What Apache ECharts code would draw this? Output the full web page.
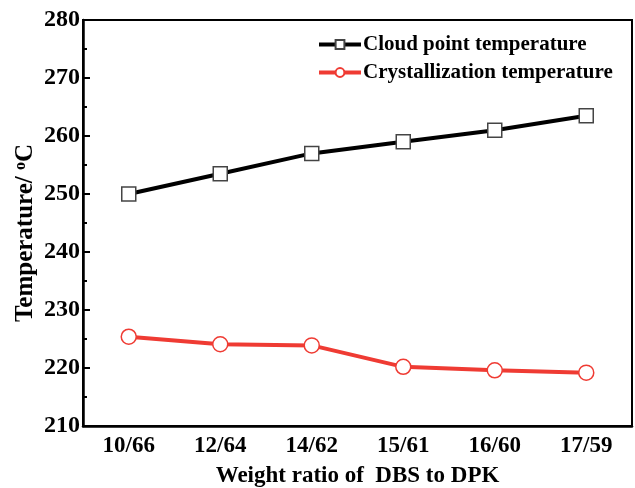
<!DOCTYPE html>
<html>
<head>
<meta charset="utf-8">
<script src="https://cdn.jsdelivr.net/npm/echarts@6/dist/echarts.min.js"></script>
<style>
  html, body { margin: 0; padding: 0; background: #fff; }
  #chart { width: 635px; height: 488px; }
</style>
</head>
<body>
<div id="chart"></div>
<script>
// Weight ratio of DBS to DPK
const ratios = ['10/66', '12/64', '14/62', '15/61', '16/60', '17/59'];
// Temperatures in °C
const cloudPoint = [250, 253.5, 257, 259, 261, 263.5];
const crystallization = [225.4, 224.1, 223.9, 220.2, 219.6, 219.2];
const yTicks = [210, 220, 230, 240, 250, 260, 270, 280];

const font = 'Liberation Serif, Times New Roman, serif';
const red = '#ef3b33';

const chart = echarts.init(document.getElementById('chart'));
chart.setOption({
  animation: false,
  backgroundColor: '#fff',
  grid: {
    left: 83, right: 3, top: 20, bottom: 62,
    containLabel: false,
    outerBoundsMode: 'none',
    show: true, borderColor: '#000', borderWidth: 2
  },
  legend: {
    orient: 'vertical',
    left: 312, top: 29,
    itemWidth: 42, itemHeight: 11, itemGap: 7,
    lineStyle: { width: 'inherit' },
    textStyle: { fontFamily: font, fontWeight: 'bold', fontSize: 21, color: '#000', padding: [0, 0, 0, -3] },
    data: ['Cloud point temperature', 'Crystallization temperature']
  },
  xAxis: [{
    type: 'category',
    data: ratios,
    boundaryGap: true,
    axisLine: { lineStyle: { color: '#000', width: 2.5 } },
    axisTick: { inside: true, alignWithLabel: true, length: 8, lineStyle: { color: '#000', width: 2 } },
    axisLabel: { fontFamily: font, fontWeight: 'bold', fontSize: 23, color: '#000', margin: 9 },
    name: 'Weight ratio of  DBS to DPK',
    nameLocation: 'middle',
    nameGap: 39,
    nameTextStyle: { fontFamily: font, fontWeight: 'bold', fontSize: 23, color: '#000' }
  }, {
    // short ticks on the category boundaries
    type: 'category',
    data: ratios,
    position: 'bottom',
    boundaryGap: true,
    axisLine: { show: false },
    axisTick: { inside: true, length: 5, lineStyle: { color: '#000', width: 2 } },
    axisLabel: { show: false }
  }],
  yAxis: {
    type: 'value',
    min: yTicks[0], max: yTicks[yTicks.length - 1], interval: 10,
    axisLine: { show: true, lineStyle: { color: '#000', width: 2.5 } },
    axisTick: { show: true, inside: true, length: 7, lineStyle: { color: '#000', width: 2 } },
    minorTick: { show: true, splitNumber: 2, length: 4, lineStyle: { color: '#000', width: 2 } },
    splitLine: { show: false },
    axisLabel: { fontFamily: font, fontWeight: 'bold', fontSize: 24, color: '#000', margin: 3 },
    name: 'Temperature/ {sup|o}C',
    nameLocation: 'middle',
    nameGap: 44,
    nameMoveOverlap: false,
    nameRotate: 90,
    nameTextStyle: {
      fontFamily: font, fontWeight: 'bold', fontSize: 25, color: '#000',
      padding: [0, 20, 0, 0],
      rich: {
        sup: { fontFamily: font, fontWeight: 'bold', fontSize: 16, color: '#000', verticalAlign: 'top', padding: [0, 0, 10, 0] }
      }
    }
  },
  series: [{
    name: 'Cloud point temperature',
    type: 'line',
    data: cloudPoint,
    symbol: 'rect',
    symbolSize: 14,
    lineStyle: { color: '#000', width: 4 },
    itemStyle: { color: '#fff', borderColor: '#444', borderWidth: 1.5 },
    emphasis: { disabled: true }
  }, {
    name: 'Crystallization temperature',
    type: 'line',
    data: crystallization,
    symbol: 'circle',
    symbolSize: 15,
    lineStyle: { color: red, width: 4 },
    itemStyle: { color: '#fff', borderColor: red, borderWidth: 1.5 },
    emphasis: { disabled: true }
  }]
});
</script>
</body>
</html>
